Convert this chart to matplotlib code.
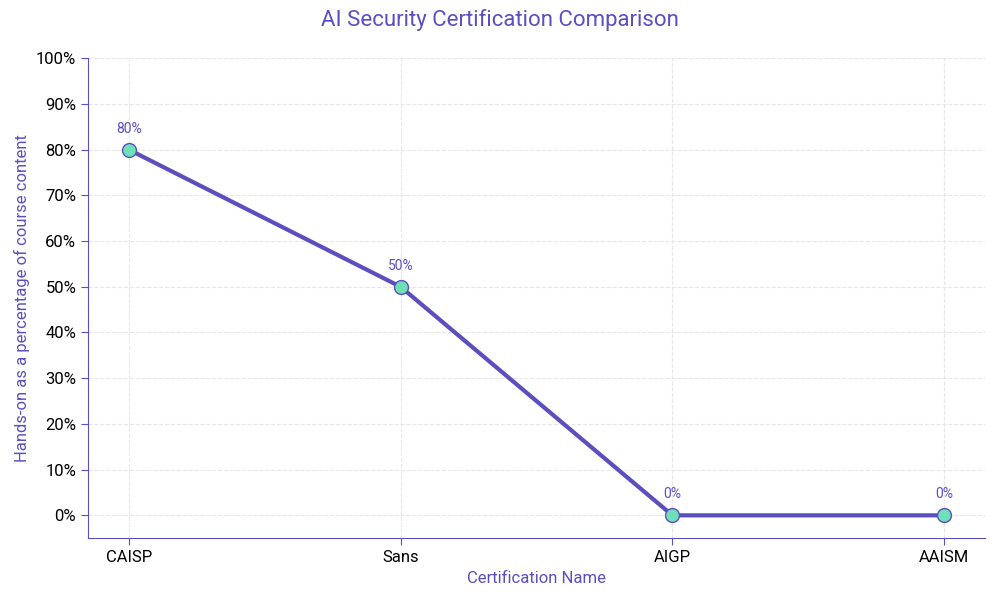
import matplotlib
matplotlib.use("Agg")
import matplotlib.pyplot as plt
from matplotlib.ticker import PercentFormatter

categories = ["CAISP", "Sans", "AIGP", "AAISM"]
values = [80, 50, 0, 0]
labels = ["80%", "50%", "0%", "0%"]

purple = "#5b4fc0"
mint = "#6ee0b8"
plt.rcParams['font.family'] = ['Roboto', 'DejaVu Sans']

fig = plt.figure(figsize=(10, 6), dpi=100)
ax = fig.add_axes([0.088, 0.103, 0.897, 0.8])
x = list(range(len(categories)))
ax.plot(x, values, color=purple, lw=3, marker='o', ms=10, mfc=mint, mec=purple, mew=1, zorder=3)
for xi, v, l in zip(x, values, labels):
    ax.annotate(l, (xi, v), xytext=(0, 10), textcoords='offset points', ha='center', va='bottom', color=purple, fontsize=10)
ax.set_xlim(-0.15, 3.15)
ax.set_ylim(-5, 100)
ax.set_yticks(range(0, 101, 10))
ax.yaxis.set_major_formatter(PercentFormatter(decimals=0))
ax.set_xticks(x)
ax.set_xticklabels(categories)
ax.tick_params(labelsize=12, colors='black', length=5)
ax.tick_params(color=purple)
ax.grid(True, ls='--', color='#e6e6e6', lw=0.8)
ax.set_axisbelow(True)
for s in ['top', 'right']:
    ax.spines[s].set_visible(False)
for s in ['left', 'bottom']:
    ax.spines[s].set_color(purple)
ax.set_xlabel("Certification Name", color=purple, fontsize=12)
ax.set_ylabel("Hands-on as a percentage of course content", color=purple, fontsize=12)
fig.suptitle("AI Security Certification Comparison", color=purple, fontsize=16, y=0.985)
fig.savefig("out.png", dpi=100)
